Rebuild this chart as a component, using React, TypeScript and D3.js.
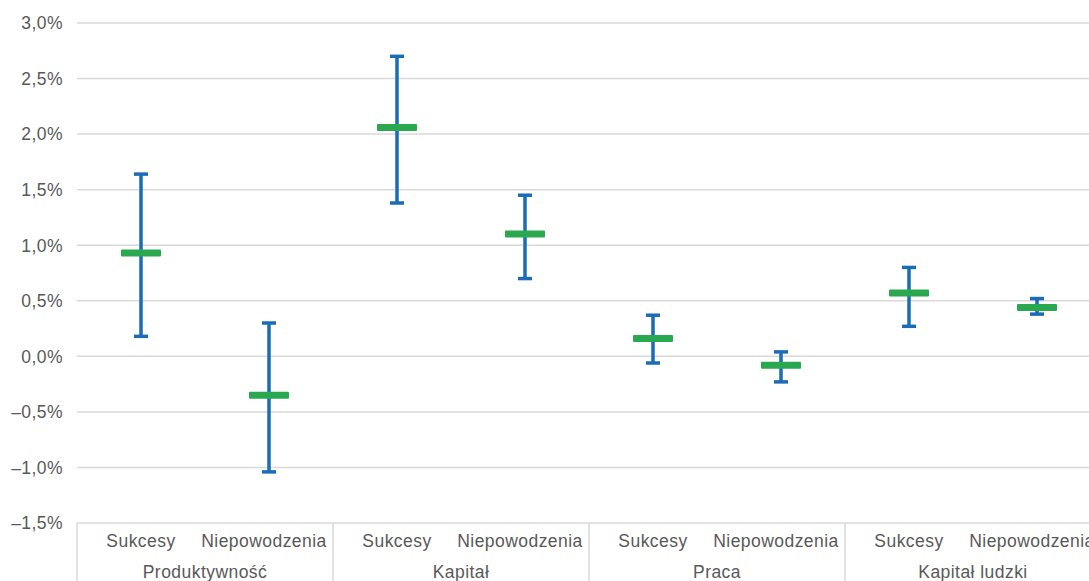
import React from "react";
import * as d3 from "d3";

const groups = ["Produktywność", "Kapitał", "Praca", "Kapitał ludzki"];
const subs = ["Sukcesy", "Niepowodzenia"];
const means = [0.93, -0.35, 2.06, 1.1, 0.16, -0.08, 0.57, 0.44];
const highs = [1.64, 0.3, 2.7, 1.45, 0.37, 0.04, 0.8, 0.52];
const lows = [0.18, -1.04, 1.38, 0.7, -0.06, -0.23, 0.27, 0.38];
const yTicks = [3.0, 2.5, 2.0, 1.5, 1.0, 0.5, 0.0, -0.5, -1.0, -1.5];

const W = 1089;
const H = 581;
const left = 77;
const right = 1101;
const top = 23;
const bottom = 523;

const fmt = (v: number) => {
  const s = Math.abs(v).toFixed(1).replace(".", ",") + "%";
  return v < 0 ? "\u2013" + s : s;
};

export default function App() {
  const y = d3.scaleLinear().domain([-1.5, 3.0]).range([bottom, top]);
  const xg = d3.scaleBand<string>().domain(groups).range([left, right]);
  const xs = d3.scaleBand<string>().domain(subs).range([0, xg.bandwidth()]);
  const font = "'Liberation Sans', Arial, Helvetica, sans-serif";
  const fs = 17.5;
  const ls = 0.45;
  const points = groups.flatMap((g, gi) =>
    subs.map((s, si) => {
      const i = gi * 2 + si;
      return {
        key: g + s,
        x: (xg(g) as number) + (xs(s) as number) + xs.bandwidth() / 2,
        mean: means[i],
        hi: highs[i],
        lo: lows[i],
        sub: s,
        dx: si === 1 ? -5 : 0,
      };
    })
  );
  return (
    <svg
      width={W}
      height={H}
      style={{ position: "absolute", left: 0, top: 0, background: "#fff" }}
      fontFamily={font}
    >
      {yTicks.map((t) => (
        <g key={t}>
          <line x1={left} x2={right} y1={y(t)} y2={y(t)} stroke="#d9d9d9" strokeWidth={1.5} />
          <text x={63} y={y(t)} dy="0.36em" textAnchor="end" fontSize={fs} letterSpacing={ls} fill="#595959">
            {fmt(t)}
          </text>
        </g>
      ))}
      {groups.map((g) => (
        <g key={g}>
          <line x1={xg(g)} x2={xg(g)} y1={bottom} y2={H} stroke="#d9d9d9" strokeWidth={1.5} />
          <text
            x={(xg(g) as number) + xg.bandwidth() / 2}
            y={578}
            textAnchor="middle"
            fontSize={fs}
            letterSpacing={ls}
            fill="#595959"
          >
            {g}
          </text>
        </g>
      ))}
      {points.map((p) => (
        <g key={p.key}>
          <text x={p.x + p.dx} y={547} textAnchor="middle" fontSize={fs} letterSpacing={ls} fill="#595959">
            {p.sub}
          </text>
          <line x1={p.x} x2={p.x} y1={y(p.hi)} y2={y(p.lo)} stroke="#1a6cb7" strokeWidth={3.5} />
          <line x1={p.x - 7} x2={p.x + 7} y1={y(p.hi)} y2={y(p.hi)} stroke="#1a6cb7" strokeWidth={3.5} />
          <line x1={p.x - 7} x2={p.x + 7} y1={y(p.lo)} y2={y(p.lo)} stroke="#1a6cb7" strokeWidth={3.5} />
          <rect x={p.x - 20} y={y(p.mean) - 3.5} width={40} height={7} rx={1} fill="#2aa84f" />
        </g>
      ))}
    </svg>
  );
}
